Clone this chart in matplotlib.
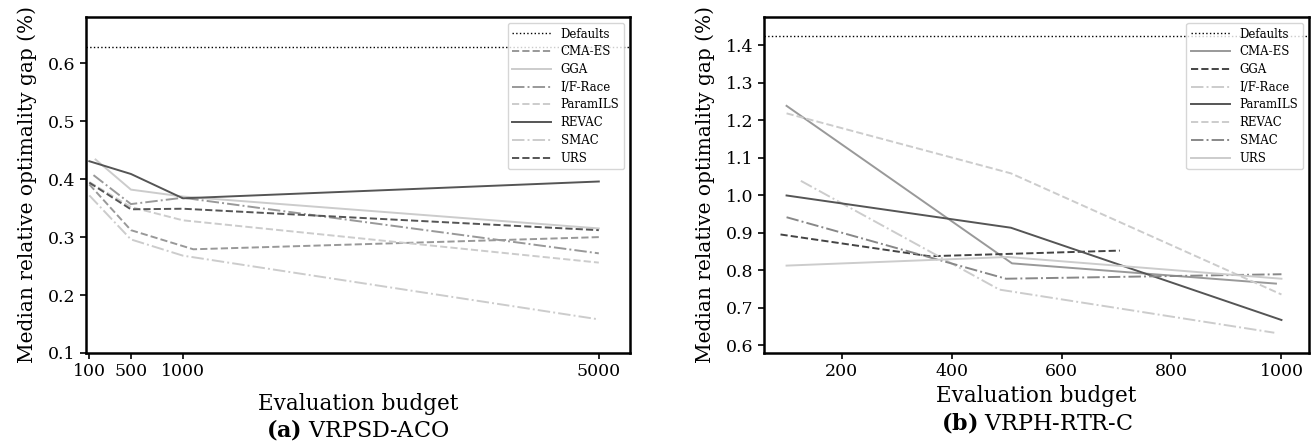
import matplotlib
matplotlib.use("Agg")
import matplotlib.pyplot as plt

plt.rcParams['font.family'] = 'DejaVu Serif'
plt.rcParams['mathtext.fontset'] = 'dejavuserif'

# --------------------------------------------------
# DATA
# --------------------------------------------------

labels = ["CMA-ES", "GGA", "I/F-Race", "ParamILS", "REVAC", "SMAC", "URS"]

# (a) VRPSD-ACO
a_default = 0.629
a_x = {
    "CMA-ES":   [100, 500, 1100, 5000],
    "GGA":      [160, 500, 1000, 5000],
    "I/F-Race": [140, 500, 1000, 5000],
    "ParamILS": [100, 500, 1000, 5000],
    "REVAC":    [100, 500, 1000, 5000],
    "SMAC":     [100, 500, 1000, 5000],
    "URS":      [100, 500, 1000, 5000],
}
a_y = {
    "CMA-ES":   [0.391, 0.312, 0.279, 0.300],
    "GGA":      [0.434, 0.382, 0.370, 0.315],
    "I/F-Race": [0.407, 0.357, 0.368, 0.272],
    "ParamILS": [0.395, 0.352, 0.329, 0.256],
    "REVAC":    [0.431, 0.409, 0.367, 0.396],
    "SMAC":     [0.372, 0.296, 0.268, 0.158],
    "URS":      [0.394, 0.348, 0.349, 0.312],
}
a_xticks = [100, 500, 1000, 5000]

# (b) VRPH-RTR-C
b_default = 1.424
b_x = {
    "CMA-ES":   [100, 510, 990],
    "GGA":      [89, 360, 706],
    "I/F-Race": [126, 487, 987],
    "ParamILS": [100, 508, 1000],
    "REVAC":    [100, 508, 1000],
    "SMAC":     [100, 499, 1000],
    "URS":      [100, 502, 1000],
}
b_y = {
    "CMA-ES":   [1.239, 0.819, 0.765],
    "GGA":      [0.896, 0.838, 0.853],
    "I/F-Race": [1.039, 0.749, 0.634],
    "ParamILS": [1.000, 0.914, 0.668],
    "REVAC":    [1.219, 1.059, 0.736],
    "SMAC":     [0.942, 0.778, 0.790],
    "URS":      [0.813, 0.836, 0.778],
}

# line styles per panel: (linestyle, grey)
a_style = {
    "CMA-ES":   ("--", "#999999"),
    "GGA":      ("-", "#cccccc"),
    "I/F-Race": ("-.", "#999999"),
    "ParamILS": ("--", "#cccccc"),
    "REVAC":    ("-", "#555555"),
    "SMAC":     ("-.", "#cccccc"),
    "URS":      ("--", "#555555"),
}
b_style = {
    "CMA-ES":   ("-", "#999999"),
    "GGA":      ("--", "#444444"),
    "I/F-Race": ("-.", "#cccccc"),
    "ParamILS": ("-", "#555555"),
    "REVAC":    ("--", "#cccccc"),
    "SMAC":     ("-.", "#888888"),
    "URS":      ("-", "#cccccc"),
}


def draw_panel(ax, default, xs, ys, style, caption, labelpad, cap_y):
    ax.axhline(default, color="black", linestyle=":", linewidth=1.0, label="Defaults")
    for name in labels:
        ls, col = style[name]
        ax.plot(xs[name], ys[name], linestyle=ls, color=col, linewidth=1.4, label=name)
    ax.legend(loc="upper right", fontsize=8.5, handlelength=3.3, labelspacing=0.4,
              framealpha=0.8)
    ax.set_xlabel("Evaluation budget", fontsize=15.5, labelpad=labelpad)
    ax.set_ylabel("Median relative optimality gap (%)", fontsize=14.5, labelpad=8)
    ax.tick_params(labelsize=12.5, length=4, width=1.2)
    for sp in ax.spines.values():
        sp.set_linewidth(1.8)
    ax.text(0.5, cap_y, caption, transform=ax.transAxes, ha="center", va="center",
            fontsize=16)


fig = plt.figure(figsize=(13.15, 4.48), dpi=100)
ax1 = fig.add_axes([0.0654, 0.2121, 0.4137, 0.75])
ax2 = fig.add_axes([0.581, 0.2121, 0.4144, 0.75])

draw_panel(ax1, a_default, a_x, a_y, a_style, r"$\mathbf{(a)}$ VRPSD-ACO", 9, -0.229)
ax1.set_xticks(a_xticks)
ax1.set_xlim(68, 5300)
ax1.set_ylim(0.1, 0.68)

draw_panel(ax2, b_default, b_x, b_y, b_style, r"$\mathbf{(b)}$ VRPH-RTR-C", 3, -0.208)
ax2.set_xlim(59, 1050)
ax2.set_ylim(0.58, 1.476)

fig.savefig("out.png", dpi=100)
